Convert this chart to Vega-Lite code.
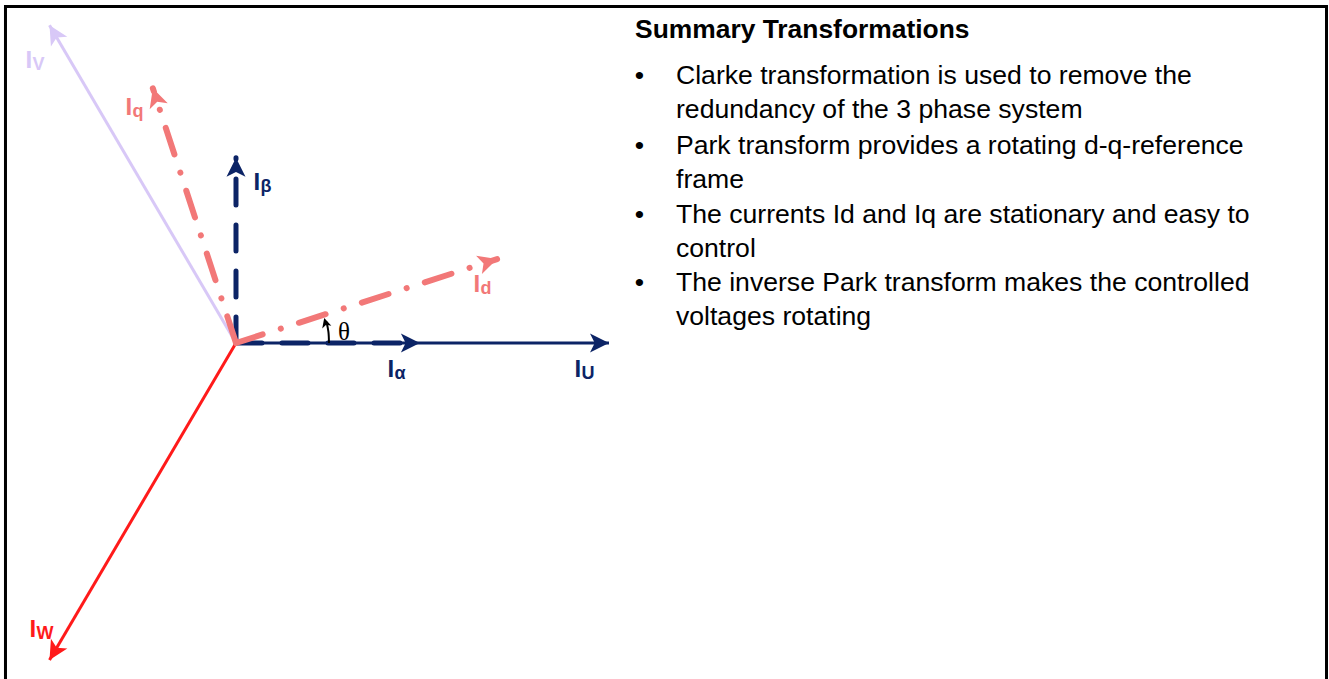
{
  "$schema": "https://vega.github.io/schema/vega-lite/v6.json",
  "width": 1329,
  "height": 679,
  "autosize": {"type": "fit", "contains": "padding"},
  "padding": 0,
  "background": "white",
  "config": {
    "view": {"stroke": null},
    "axis": {"disable": true},
    "legend": {"disable": true}
  },
  "datasets": {
    "vectors": [
      {"vec": "Iv", "frame": "phase", "x0": 0, "y0": 0, "x": -0.5, "y": 0.852},
      {"vec": "Iw", "frame": "phase", "x0": 0, "y0": 0, "x": -0.5, "y": -0.85},
      {"vec": "Iu", "frame": "phase", "x0": 0, "y0": 0, "x": 1.0, "y": 0},
      {"vec": "Iα", "frame": "stationary", "x0": 0, "y0": 0, "x": 0.493, "y": 0},
      {"vec": "Iβ", "frame": "stationary", "x0": 0, "y0": 0, "x": 0, "y": 0.497},
      {"vec": "Id", "frame": "rotating", "x0": 0, "y0": 0, "x": 0.70, "y": 0.225},
      {"vec": "Iq", "frame": "rotating", "x0": 0, "y0": 0, "x": -0.223, "y": 0.683}
    ],
    "labels": [
      {"vec": "Iv", "sub": "V", "lx": -0.5643, "ly": 0.7373},
      {"vec": "Iq", "sub": "q", "lx": -0.2962, "ly": 0.6113},
      {"vec": "Iβ", "sub": "β", "lx": 0.0469, "ly": 0.4102},
      {"vec": "Id", "sub": "d", "lx": 0.6367, "ly": 0.1367},
      {"vec": "Iα", "sub": "α", "lx": 0.4062, "ly": -0.0912},
      {"vec": "Iu", "sub": "U", "lx": 0.9075, "ly": -0.0912},
      {"vec": "Iw", "sub": "W", "lx": -0.5536, "ly": -0.7882}
    ],
    "thetaArc": [
      {"i": 0, "x": 0.2493, "y": 0.0},
      {"i": 1, "x": 0.2478, "y": 0.03},
      {"i": 2, "x": 0.2425, "y": 0.057}
    ],
    "thetaHead": [{"x": 0.2365, "y": 0.067}],
    "thetaLabel": [{"text": "θ", "x": 0.2735, "y": 0.008}],
    "title": [{"text": "Summary Transformations", "x": 1.0699, "y": 0.8169}],
    "bullets": [
      {"n": 1, "bx": 1.0692, "x": 1.1796, "y": 0.6944, "lines": ["Clarke transformation is used to remove the", "redundancy of the 3 phase system"]},
      {"n": 2, "bx": 1.0692, "x": 1.1796, "y": 0.5067, "lines": ["Park transform provides a rotating d-q-reference", "frame"]},
      {"n": 3, "bx": 1.0692, "x": 1.1796, "y": 0.3217, "lines": ["The currents Id and Iq are stationary and easy to", "control"]},
      {"n": 4, "bx": 1.0692, "x": 1.1796, "y": 0.1394, "lines": ["The inverse Park transform makes the controlled", "voltages rotating"]}
    ],
    "border": [{"x0": -0.618, "x1": 2.9236, "y0": 0.9021, "y1": -1.0}]
  },
  "layer": [
    {
      "data": {"name": "vectors"},
      "transform": [{"filter": "datum.frame === 'phase'"}],
      "mark": {"type": "rule", "strokeWidth": 3, "strokeCap": "butt"},
      "encoding": {
        "x": {"field": "x0", "type": "quantitative", "scale": {"domain": [-0.6327, 2.9303], "nice": false, "zero": false}},
        "y": {"field": "y0", "type": "quantitative", "scale": {"domain": [-0.9008, 0.9196], "nice": false, "zero": false}},
        "x2": {"field": "x"},
        "y2": {"field": "y"},
        "color": {"field": "vec", "type": "nominal", "scale": {"domain": ["Iu", "Iα", "Iβ", "Iv", "Iw", "Id", "Iq"], "range": ["#0c2466", "#0c2466", "#0c2466", "#d8c8f7", "#ff1a1a", "#f27878", "#f27878"]}}
      }
    },
    {
      "data": {"name": "vectors"},
      "transform": [{"filter": "datum.frame === 'stationary'"}],
      "mark": {"type": "rule", "strokeWidth": 5, "strokeCap": "round", "strokeDash": [26, 20]},
      "encoding": {
        "x": {"field": "x0", "type": "quantitative", "scale": {"domain": [-0.6327, 2.9303], "nice": false, "zero": false}},
        "y": {"field": "y0", "type": "quantitative", "scale": {"domain": [-0.9008, 0.9196], "nice": false, "zero": false}},
        "x2": {"field": "x"},
        "y2": {"field": "y"},
        "color": {"field": "vec", "type": "nominal", "scale": {"domain": ["Iu", "Iα", "Iβ", "Iv", "Iw", "Id", "Iq"], "range": ["#0c2466", "#0c2466", "#0c2466", "#d8c8f7", "#ff1a1a", "#f27878", "#f27878"]}}
      }
    },
    {
      "data": {"name": "vectors"},
      "transform": [{"filter": "datum.frame === 'rotating'"}],
      "mark": {"type": "rule", "strokeWidth": 6, "strokeCap": "round", "strokeDash": [28, 19, 0.1, 19]},
      "encoding": {
        "x": {"field": "x0", "type": "quantitative", "scale": {"domain": [-0.6327, 2.9303], "nice": false, "zero": false}},
        "y": {"field": "y0", "type": "quantitative", "scale": {"domain": [-0.9008, 0.9196], "nice": false, "zero": false}},
        "x2": {"field": "x"},
        "y2": {"field": "y"},
        "color": {"field": "vec", "type": "nominal", "scale": {"domain": ["Iu", "Iα", "Iβ", "Iv", "Iw", "Id", "Iq"], "range": ["#0c2466", "#0c2466", "#0c2466", "#d8c8f7", "#ff1a1a", "#f27878", "#f27878"]}}
      }
    },
    {
      "data": {"name": "vectors"},
      "transform": [{"calculate": "-atan2(datum.y, datum.x) * 180 / PI", "as": "ang"}],
      "mark": {"type": "point", "filled": true, "opacity": 1, "strokeWidth": 0, "shape": "M0,0L-2,-1L-1.5,0L-2,1Z", "size": 361},
      "encoding": {
        "x": {"field": "x", "type": "quantitative", "scale": {"domain": [-0.6327, 2.9303], "nice": false, "zero": false}},
        "y": {"field": "y", "type": "quantitative", "scale": {"domain": [-0.9008, 0.9196], "nice": false, "zero": false}},
        "angle": {"field": "ang", "type": "quantitative", "scale": null},
        "color": {"field": "vec", "type": "nominal", "scale": {"domain": ["Iu", "Iα", "Iβ", "Iv", "Iw", "Id", "Iq"], "range": ["#0c2466", "#0c2466", "#0c2466", "#d8c8f7", "#ff1a1a", "#f27878", "#f27878"]}}
      }
    },
    {
      "data": {"name": "labels"},
      "mark": {"type": "text", "align": "left", "baseline": "alphabetic", "font": "Liberation Sans", "fontWeight": "bold", "fontSize": 24, "text": "I"},
      "encoding": {
        "x": {"field": "lx", "type": "quantitative", "scale": {"domain": [-0.6327, 2.9303], "nice": false, "zero": false}},
        "y": {"field": "ly", "type": "quantitative", "scale": {"domain": [-0.9008, 0.9196], "nice": false, "zero": false}},
        "color": {"field": "vec", "type": "nominal", "scale": {"domain": ["Iu", "Iα", "Iβ", "Iv", "Iw", "Id", "Iq"], "range": ["#0c2466", "#0c2466", "#0c2466", "#d8c8f7", "#ff1a1a", "#f27878", "#f27878"]}}
      }
    },
    {
      "data": {"name": "labels"},
      "mark": {"type": "text", "align": "left", "baseline": "alphabetic", "font": "Liberation Sans", "fontWeight": "bold", "fontSize": 18, "dx": 7, "dy": 2},
      "encoding": {
        "x": {"field": "lx", "type": "quantitative", "scale": {"domain": [-0.6327, 2.9303], "nice": false, "zero": false}},
        "y": {"field": "ly", "type": "quantitative", "scale": {"domain": [-0.9008, 0.9196], "nice": false, "zero": false}},
        "text": {"field": "sub", "type": "nominal"},
        "color": {"field": "vec", "type": "nominal", "scale": {"domain": ["Iu", "Iα", "Iβ", "Iv", "Iw", "Id", "Iq"], "range": ["#0c2466", "#0c2466", "#0c2466", "#d8c8f7", "#ff1a1a", "#f27878", "#f27878"]}}
      }
    },
    {
      "data": {"name": "thetaArc"},
      "mark": {"type": "line", "color": "black", "strokeWidth": 2, "interpolate": "natural"},
      "encoding": {
        "x": {"field": "x", "type": "quantitative", "scale": {"domain": [-0.6327, 2.9303], "nice": false, "zero": false}},
        "y": {"field": "y", "type": "quantitative", "scale": {"domain": [-0.9008, 0.9196], "nice": false, "zero": false}},
        "order": {"field": "i", "type": "quantitative"}
      }
    },
    {
      "data": {"name": "thetaHead"},
      "transform": [{"calculate": "-(atan2(datum.y, datum.x) * 180 / PI + 90)", "as": "ang"}],
      "mark": {"type": "point", "filled": true, "opacity": 1, "strokeWidth": 0, "color": "black", "shape": "M0,0L-2,-1L-1.5,0L-2,1Z", "size": 90},
      "encoding": {
        "x": {"field": "x", "type": "quantitative", "scale": {"domain": [-0.6327, 2.9303], "nice": false, "zero": false}},
        "y": {"field": "y", "type": "quantitative", "scale": {"domain": [-0.9008, 0.9196], "nice": false, "zero": false}},
        "angle": {"field": "ang", "type": "quantitative", "scale": null}
      }
    },
    {
      "data": {"name": "thetaLabel"},
      "mark": {"type": "text", "align": "left", "baseline": "alphabetic", "font": "Liberation Serif", "fontSize": 25, "color": "black"},
      "encoding": {
        "x": {"field": "x", "type": "quantitative", "scale": {"domain": [-0.6327, 2.9303], "nice": false, "zero": false}},
        "y": {"field": "y", "type": "quantitative", "scale": {"domain": [-0.9008, 0.9196], "nice": false, "zero": false}},
        "text": {"field": "text", "type": "nominal"}
      }
    },
    {
      "data": {"name": "title"},
      "mark": {"type": "text", "align": "left", "baseline": "alphabetic", "font": "Liberation Sans", "fontWeight": "bold", "fontSize": 26.4, "color": "black"},
      "encoding": {
        "x": {"field": "x", "type": "quantitative", "scale": {"domain": [-0.6327, 2.9303], "nice": false, "zero": false}},
        "y": {"field": "y", "type": "quantitative", "scale": {"domain": [-0.9008, 0.9196], "nice": false, "zero": false}},
        "text": {"field": "text", "type": "nominal"}
      }
    },
    {
      "data": {"name": "bullets"},
      "mark": {"type": "text", "align": "left", "baseline": "alphabetic", "font": "Liberation Sans", "fontSize": 26.6, "color": "black", "text": "•"},
      "encoding": {
        "x": {"field": "bx", "type": "quantitative", "scale": {"domain": [-0.6327, 2.9303], "nice": false, "zero": false}},
        "y": {"field": "y", "type": "quantitative", "scale": {"domain": [-0.9008, 0.9196], "nice": false, "zero": false}}
      }
    },
    {
      "data": {"name": "bullets"},
      "mark": {"type": "text", "align": "left", "baseline": "alphabetic", "font": "Liberation Sans", "fontSize": 26.6, "lineHeight": 34, "color": "black"},
      "encoding": {
        "x": {"field": "x", "type": "quantitative", "scale": {"domain": [-0.6327, 2.9303], "nice": false, "zero": false}},
        "y": {"field": "y", "type": "quantitative", "scale": {"domain": [-0.9008, 0.9196], "nice": false, "zero": false}},
        "text": {"field": "lines", "type": "nominal"}
      }
    },
    {
      "data": {"name": "border"},
      "mark": {"type": "rect", "filled": false, "stroke": "black", "strokeWidth": 3, "clip": true},
      "encoding": {
        "x": {"field": "x0", "type": "quantitative", "scale": {"domain": [-0.6327, 2.9303], "nice": false, "zero": false}},
        "x2": {"field": "x1"},
        "y": {"field": "y0", "type": "quantitative", "scale": {"domain": [-0.9008, 0.9196], "nice": false, "zero": false}},
        "y2": {"field": "y1"}
      }
    }
  ]
}
